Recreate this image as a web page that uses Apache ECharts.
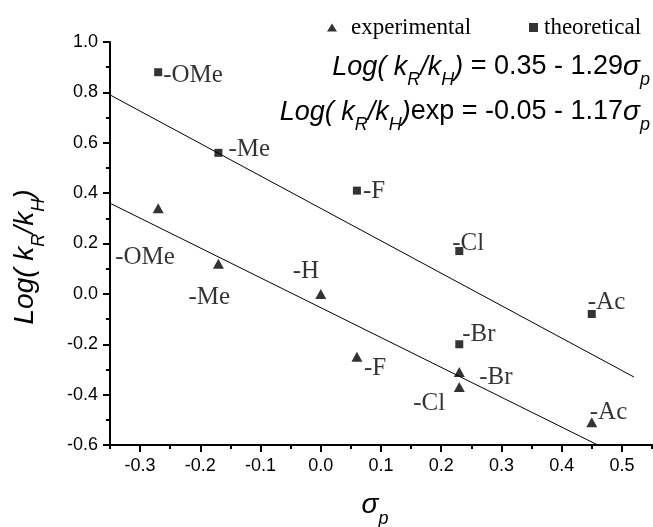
<!DOCTYPE html>
<html>
<head>
<meta charset="utf-8">
<script src="https://cdn.jsdelivr.net/npm/echarts@6/dist/echarts.min.js"></script>
<style>
  html, body { margin: 0; padding: 0; background: #fff; }
  #chart { width: 653px; height: 527px; }
</style>
</head>
<body>
<div id="chart"></div>
<script>
// theoretical points (squares)
const theoNames = ['-OMe', '-Me', '-F', '-Cl', '-Br', '-Ac'];
const theoSigma = [-0.27, -0.17, 0.06, 0.23, 0.23, 0.45];
const theoLog = [0.88, 0.56, 0.41, 0.17, -0.20, -0.08];

// experimental points (triangles)
const expNames = ['-OMe', '-Me', '-H', '-F', '-Br', '-Cl', '-Ac'];
const expSigma = [-0.27, -0.17, 0.00, 0.06, 0.23, 0.23, 0.45];
const expLog = [0.34, 0.12, 0.00, -0.25, -0.31, -0.37, -0.51];

// fitted lines, end points as drawn
const theoFitSigma = [-0.35, 0.52];
const theoFitLog = [0.79, -0.33];
const expFitSigma = [-0.35, 0.46];
const expFitLog = [0.36, -0.60];

// ticks
const xMajorTicks = [-0.3, -0.2, -0.1, 0.0, 0.1, 0.2, 0.3, 0.4, 0.5];
const xMinorTicks = [-0.35, -0.25, -0.15, -0.05, 0.05, 0.15, 0.25, 0.35, 0.45, 0.55];

// label placement (pixels from marker centre)
const theoLabelOffset = {'-OMe': [5, 3], '-Me': [10, -3], '-F': [6, 1], '-Cl': [-7, -8], '-Br': [3, -10], '-Ac': [-4, -12]};
const expLabelOffset = {'-OMe': [-43, 49], '-Me': [-30, 34], '-H': [-28, -22], '-F': [7, 12], '-Br': [20, 5], '-Cl': [-46, 16], '-Ac': [-2, -10]};

const serif = '"Liberation Serif", "Times New Roman", serif';
const sans = '"Liberation Sans", Arial, sans-serif';

function pts(xs, ys, names, offsets) {
  return xs.map(function (x, i) {
    const item = { value: [x, ys[i]], name: names ? names[i] : '' };
    if (names) {
      item.label = { offset: offsets[names[i]] };
    }
    return item;
  });
}

const labelStyle = {
  show: true,
  position: 'inside',
  align: 'left',
  verticalAlign: 'middle',
  formatter: '{b}',
  color: '#000',
  fontFamily: serif,
  fontSize: 25
};

const richEq = {
  i: { fontFamily: sans, fontStyle: 'italic', fontSize: 27, color: '#000', lineHeight: 32 },
  n: { fontFamily: sans, fontSize: 27, color: '#000', lineHeight: 32 },
  g: { fontFamily: sans, fontStyle: 'italic', fontSize: 28, color: '#000', lineHeight: 32 },
  s: { fontFamily: sans, fontStyle: 'italic', fontSize: 18, color: '#000', lineHeight: 18, verticalAlign: 'bottom', padding: [0, 0, -6, 0] }
};

const axisBase = {
  type: 'value',
  axisLine: { show: true, onZero: false, lineStyle: { color: '#000', width: 2 } },
  splitLine: { show: false }
};

let option = {
  animation: false,
  backgroundColor: '#fff',
  grid: { left: 110, right: 1, top: 42, bottom: 82, containLabel: false, outerBoundsMode: 'none' },
  legend: [
    {
      data: [{ name: 'experimental', icon: 'triangle' }],
      left: 322, top: 11,
      itemWidth: 10, itemHeight: 8,
      textStyle: { fontFamily: serif, fontSize: 23, color: '#000', padding: [0, 0, 0, 9] }
    },
    {
      data: [{ name: 'theoretical', icon: 'rect' }],
      left: 524, top: 11,
      itemWidth: 9, itemHeight: 9,
      textStyle: { fontFamily: serif, fontSize: 23, color: '#000', padding: [0, 0, 0, 1] }
    }
  ],
  xAxis: [
    Object.assign({}, axisBase, {
      min: -0.35, max: 0.55, interval: 0.05,
      axisTick: { show: true, length: 7, lineStyle: { color: '#000', width: 2 }, customValues: xMajorTicks },
      axisLabel: {
        color: '#000', fontFamily: sans, fontSize: 18, margin: 12,
        customValues: xMajorTicks,
        formatter: function (v) { return v.toFixed(1); }
      }
    }),
    Object.assign({}, axisBase, {
      min: -0.35, max: 0.55, interval: 0.05,
      position: 'bottom',
      axisTick: { show: true, length: 4, lineStyle: { color: '#000', width: 2 }, customValues: xMinorTicks },
      axisLabel: { show: false }
    })
  ],
  yAxis: Object.assign({}, axisBase, {
    min: -0.6, max: 1.0, interval: 0.2,
    axisTick: { show: true, length: 7, lineStyle: { color: '#000', width: 2 } },
    minorTick: { show: true, splitNumber: 2, length: 4, lineStyle: { color: '#000', width: 2 } },
    axisLabel: {
      color: '#000', fontFamily: sans, fontSize: 18, margin: 12,
      formatter: function (v) { return v.toFixed(1); }
    }
  }),
  graphic: [
    {
      type: 'text', x: 650, y: 67, z: 10,
      style: {
        text: '{i|Log( k}{s|R}{i|/k}{s|H}{i|)}{n| = 0.35 - 1.29}{g|σ}{s|p}',
        rich: richEq, align: 'right', verticalAlign: 'middle'
      }
    },
    {
      type: 'text', x: 650, y: 112, z: 10,
      style: {
        text: '{i|Log( k}{s|R}{i|/k}{s|H}{i|)}{n|exp = -0.05 - 1.17}{g|σ}{s|p}',
        rich: richEq, align: 'right', verticalAlign: 'middle'
      }
    },
    {
      type: 'text', x: 25, y: 257, rotation: Math.PI / 2, z: 10,
      style: {
        text: '{i|Log( k}{s|R}{i|/k}{s|H}{i|)}',
        rich: {
          i: { fontFamily: sans, fontStyle: 'italic', fontSize: 28, color: '#000', lineHeight: 34 },
          s: { fontFamily: sans, fontStyle: 'italic', fontSize: 18, color: '#000', lineHeight: 18, verticalAlign: 'bottom', padding: [0, 0, -6, 0] }
        },
        align: 'center', verticalAlign: 'middle'
      }
    },
    {
      type: 'text', x: 375, y: 505, z: 10,
      style: {
        text: '{g|σ}{s|p}',
        rich: {
          g: { fontFamily: sans, fontStyle: 'italic', fontSize: 28, color: '#000', lineHeight: 34 },
          s: { fontFamily: sans, fontStyle: 'italic', fontSize: 18, color: '#000', lineHeight: 18, verticalAlign: 'bottom', padding: [0, 0, -6, 0] }
        },
        align: 'center', verticalAlign: 'middle'
      }
    }
  ],
  series: [
    {
      name: 'experimental',
      type: 'scatter',
      symbol: 'triangle',
      symbolSize: [11, 10],
      itemStyle: { color: '#000' },
      label: labelStyle,
      data: pts(expSigma, expLog, expNames, expLabelOffset),
      z: 3
    },
    {
      name: 'theoretical',
      type: 'scatter',
      symbol: 'rect',
      symbolSize: 8,
      itemStyle: { color: '#000' },
      label: labelStyle,
      data: pts(theoSigma, theoLog, theoNames, theoLabelOffset),
      z: 3
    },
    {
      name: 'theoFit',
      type: 'line',
      showSymbol: false,
      symbol: 'none',
      silent: true,
      lineStyle: { color: '#000', width: 1 },
      data: pts(theoFitSigma, theoFitLog),
      z: 2
    },
    {
      name: 'expFit',
      type: 'line',
      showSymbol: false,
      symbol: 'none',
      silent: true,
      lineStyle: { color: '#000', width: 1 },
      data: pts(expFitSigma, expFitLog),
      z: 2
    }
  ]
};

let myChart = echarts.init(document.getElementById('chart'));
myChart.setOption(option);
</script>
</body>
</html>
